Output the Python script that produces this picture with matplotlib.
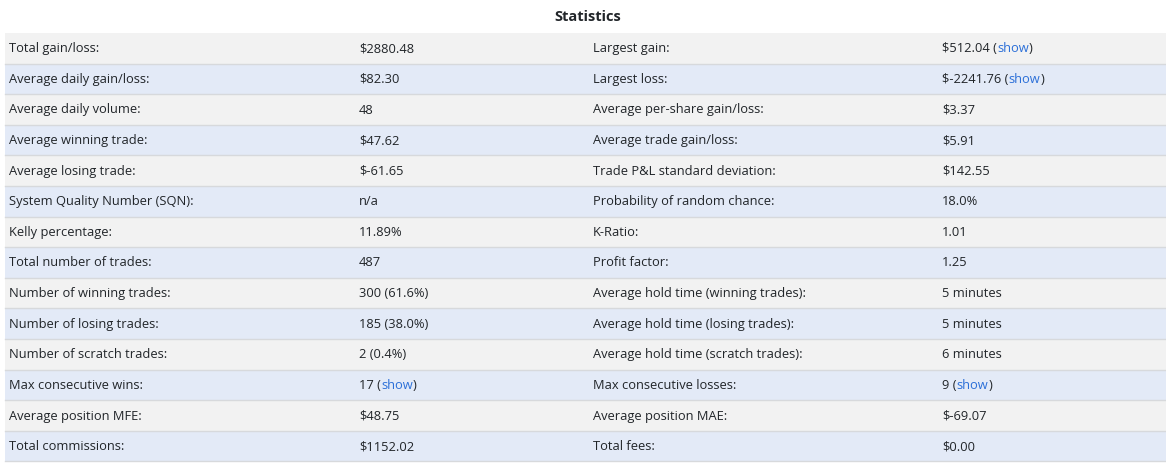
import matplotlib
matplotlib.use("Agg")
import matplotlib.pyplot as plt
from matplotlib.patches import Rectangle

title = "Statistics"

labels_left = [
    "Total gain/loss:", "Average daily gain/loss:", "Average daily volume:",
    "Average winning trade:", "Average losing trade:", "System Quality Number (SQN):",
    "Kelly percentage:", "Total number of trades:", "Number of winning trades:",
    "Number of losing trades:", "Number of scratch trades:", "Max consecutive wins:",
    "Average position MFE:", "Total commissions:",
]
values_left = [
    "$2880.48", "$82.30", "48", "$47.62", "$-61.65", "n/a", "11.89%", "487",
    "300 (61.6%)", "185 (38.0%)", "2 (0.4%)", "17", "$48.75", "$1152.02",
]
links_left = [False] * 11 + [True, False, False]

labels_right = [
    "Largest gain:", "Largest loss:", "Average per-share gain/loss:",
    "Average trade gain/loss:", "Trade P&L standard deviation:",
    "Probability of random chance:", "K-Ratio:", "Profit factor:",
    "Average hold time (winning trades):", "Average hold time (losing trades):",
    "Average hold time (scratch trades):", "Max consecutive losses:",
    "Average position MAE:", "Total fees:",
]
values_right = [
    "$512.04", "$-2241.76", "$3.37", "$5.91", "$142.55", "18.0%", "1.01", "1.25",
    "5 minutes", "5 minutes", "6 minutes", "9", "$-69.07", "$0.00",
]
links_right = [True, True] + [False] * 9 + [True, False, False]

W, H = 1166, 468
fig = plt.figure(figsize=(W / 100, H / 100), dpi=100)
ax = fig.add_axes([0, 0, 1, 1])
ax.set_xlim(0, W)
ax.set_ylim(H, 0)
ax.axis("off")

FONT = ["Open Sans", "DejaVu Sans"]
FS = 9.3
TEXT_C = "#212529"
LINK_C = "#2b6fd8"
ROW_COLORS = ["#f2f2f2", "#e3eaf7"]
LINE_C = "#d7d9dc"

x0, x1 = 5, 1166
top = 33
rh = 30.6
cols = [9, 359, 593, 942]

ax.text(588, 17, title, ha="center", va="center", fontsize=10.5,
        fontweight="bold", color=TEXT_C, family=FONT)

n = len(labels_left)
for i in range(n):
    y = top + i * rh
    ax.add_patch(Rectangle((x0, y), x1 - x0, rh, facecolor=ROW_COLORS[i % 2],
                           edgecolor="none", zorder=0))
    ax.plot([x0, x1], [y + rh, y + rh], color=LINE_C, lw=1.0, zorder=1)
    yc = y + rh / 2 + 0.5
    row = [(labels_left[i], None), (values_left[i], links_left[i]),
           (labels_right[i], None), (values_right[i], links_right[i])]
    for cx, (txt, link) in zip(cols, row):
        shown = txt + " (" if link else txt
        t = ax.text(cx, yc, shown, ha="left", va="center", fontsize=FS,
                    color=TEXT_C, family=FONT, zorder=2)
        if link:
            t2 = ax.annotate("show", xy=(1, 0.5), xycoords=t, ha="left", va="center",
                             fontsize=FS, color=LINK_C, family=FONT, zorder=2)
            ax.annotate(")", xy=(1, 0.5), xycoords=t2, ha="left", va="center",
                        fontsize=FS, color=TEXT_C, family=FONT, zorder=2)

fig.savefig("out.png", dpi=100)
